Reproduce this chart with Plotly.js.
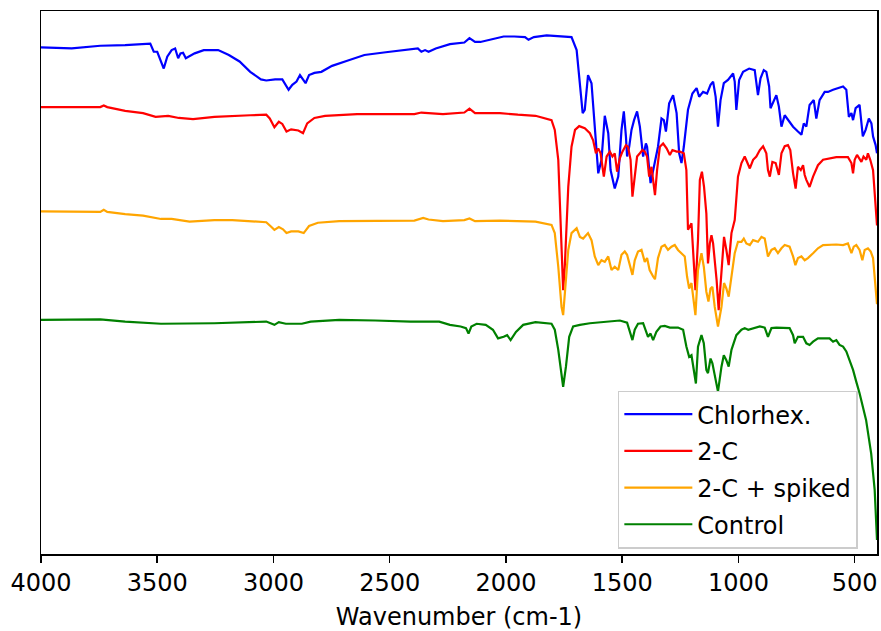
<!DOCTYPE html>
<html>
<head>
<meta charset="utf-8">
<script src="https://cdn.plot.ly/plotly-3.0.1.min.js"></script>
<style>
  html, body { margin: 0; padding: 0; background: #ffffff; }
  #chart { width: 881px; height: 631px; }
</style>
</head>
<body>
<div id="chart"></div>
<script>
// Series names
const seriesNames = ["Chlorhex.", "2-C", "2-C + spiked", "Control"];

// Chlorhex. (wavenumber cm-1, offset transmittance, arbitrary units)
const chlorhexWn = [4000,3868,3745,3638,3530,3515,3500,3484,3472,3457,
  3438,3423,3410,3400,3389,3377,3361,3339,3300,3238,
  3192,3146,3100,3054,3031,2993,2962,2947,2935,2919,
  2901,2886,2873,2862,2847,2824,2794,2748,2686,2609,
  2517,2440,2379,2364,2348,2333,2302,2241,2179,2157,
  2133,2110,2056,2010,1964,1918,1903,1880,1825,1718,
  1696,1682,1670,1661,1647,1632,1618,1603,1589,1575,
  1560,1550,1532,1517,1503,1493,1484,1479,1470,1460,
  1449,1436,1424,1410,1398,1393,1378,1364,1346,1331,
  1321,1312,1298,1281,1266,1255,1245,1235,1217,1198,
  1180,1169,1152,1135,1120,1109,1098,1088,1077,1063,
  1045,1023,1016,1009,997,980,954,930,923,916,
  905,891,880,868,862,851,837,826,815,801,
  787,765,744,729,719,708,694,676,665,651,
  629,615,593,572,550,536,525,514,507,496,
  479,465,453,439,428,421,410,404];
const chlorhexT = [93.3,93.1,93.6,93.7,94.0,92.5,92.5,90.7,89.4,91.6,
  92.8,93.1,91.3,92.2,92.3,91.3,91.7,92.2,92.8,92.8,
  91.9,90.7,88.8,87.4,87.2,87.4,87.4,86.4,85.5,86.4,
  87.0,88.2,87.3,86.7,88.2,88.6,88.8,89.9,90.8,91.9,
  92.4,92.8,93.1,92.5,92.8,92.5,93.1,93.9,94.2,95.0,
  94.3,94.3,94.8,95.3,95.3,95.2,94.7,95.2,95.5,95.2,
  92.8,86.1,81.2,81.8,88.2,86.7,78.1,70.1,72.6,80.7,
  77.5,70.7,67.3,69.5,78.1,81.5,76.9,73.2,75.0,78.1,
  79.9,81.5,78.7,73.2,75.6,75.0,68.3,71.3,75.0,80.2,
  79.9,77.8,83.0,84.5,81.2,73.8,72.0,75.0,81.8,84.8,
  85.8,84.2,85.1,84.8,86.4,87.0,84.2,78.7,83.6,86.7,
  87.3,88.5,87.0,81.8,87.3,88.8,89.4,89.1,87.0,84.5,
  87.6,89.1,88.8,86.1,82.1,83.3,84.5,82.4,78.7,80.8,
  79.9,78.7,77.8,77.2,79.3,78.7,82.7,83.6,80.2,83.6,
  85.1,85.1,85.5,85.8,86.1,85.5,80.5,81.2,79.9,82.1,
  82.7,76.9,78.1,80.2,79.3,76.9,75.3,73.8];

// 2-C
const twoCWn = [4000,3868,3745,3730,3715,3638,3561,3507,3453,3407,
  3346,3254,3177,3100,3031,3016,2996,2977,2962,2944,
  2924,2893,2873,2855,2824,2778,2640,2486,2394,2364,
  2333,2271,2179,2157,2133,2026,1949,1873,1804,1790,
  1775,1768,1761,1754,1747,1739,1732,1718,1703,1685,
  1661,1639,1625,1613,1603,1593,1579,1567,1553,1542,
  1532,1522,1510,1499,1484,1475,1464,1456,1446,1436,
  1424,1413,1403,1393,1384,1374,1359,1350,1338,1324,
  1309,1295,1284,1266,1252,1235,1224,1217,1202,1192,
  1185,1174,1166,1157,1148,1138,1131,1123,1116,1109,
  1094,1085,1073,1062,1052,1042,1030,1016,1002,987,
  973,963,951,937,923,908,894,880,873,865,
  854,840,826,815,801,787,777,765,754,744,
  732,722,715,708,694,679,658,636,608,579,
  529,514,507,500,490,482,471,462,450,443,
  433,421,414,407,404];
const twoCT = [82.3,82.3,82.3,82.6,82.3,81.6,81.2,80.5,80.7,80.3,
  80.1,80.5,80.7,80.8,80.9,80.2,78.6,79.6,79.2,77.8,
  78.2,78.0,77.5,79.3,80.3,80.7,81.0,81.0,81.0,81.3,
  81.2,81.0,81.3,82.0,81.2,81.2,80.9,80.7,79.9,78.1,
  72.6,65.2,56.0,48.6,52.9,60.3,67.6,75.0,78.1,78.8,
  78.4,77.5,76.2,73.8,74.7,73.8,69.5,73.2,74.1,73.2,
  73.8,70.4,72.9,74.1,75.3,75.0,72.6,65.8,70.1,73.2,
  73.8,74.4,74.1,73.2,69.5,71.3,66.1,70.7,75.0,75.6,
  74.7,73.5,74.4,74.1,74.1,73.8,70.7,59.7,60.9,53.5,
  48.6,57.8,68.9,70.4,67.6,62.7,53.5,57.2,58.7,57.2,
  50.5,44.9,51.7,58.4,56.0,53.2,59.1,61.5,69.5,72.0,
  73.2,72.2,71.0,72.6,73.2,74.4,75.1,73.8,70.7,69.5,
  72.2,72.0,69.8,73.8,75.1,75.3,74.4,70.1,67.3,71.3,
  70.7,71.6,69.8,68.9,67.6,69.5,71.6,72.6,72.9,73.1,
  73.1,72.0,70.1,72.6,73.5,72.9,72.2,73.2,72.6,73.8,
  72.6,70.7,66.4,61.5,60.5];

// 2-C + spiked
const spikedWn = [4000,3868,3745,3730,3715,3638,3561,3484,3438,3361,
  3254,3177,3100,3031,3011,2996,2977,2959,2944,2924,
  2893,2870,2847,2809,2717,2563,2394,2356,2333,2271,
  2179,2157,2133,2026,1949,1873,1804,1790,1775,1761,
  1754,1742,1732,1718,1696,1682,1668,1647,1632,1618,
  1603,1589,1575,1560,1546,1532,1517,1503,1489,1479,
  1467,1456,1446,1432,1417,1403,1393,1382,1367,1359,
  1346,1331,1317,1303,1288,1274,1260,1245,1231,1221,
  1212,1202,1192,1185,1174,1159,1149,1138,1129,1120,
  1112,1102,1088,1073,1062,1052,1042,1030,1016,1002,
  987,977,966,951,937,916,901,887,873,858,
  844,830,815,801,780,765,755,744,729,715,
  701,679,658,636,608,579,550,529,514,504,
  493,479,467,457,443,431,421,414,407,404];
const spikedT = [63.1,63.0,63.0,63.4,63.0,62.6,62.3,61.7,61.7,61.2,
  61.5,61.5,61.3,61.1,60.3,59.7,60.2,59.8,59.1,59.4,
  59.4,59.1,60.4,61.0,61.3,61.4,61.4,61.9,61.6,61.3,
  61.5,61.8,61.3,61.4,61.3,61.2,60.6,59.1,52.9,45.5,
  44.0,49.9,56.0,59.1,60.0,58.4,58.1,59.1,57.8,54.8,
  53.2,54.1,53.8,54.8,52.3,52.9,52.3,55.1,55.7,55.1,
  52.9,51.4,54.1,55.7,56.0,53.8,54.5,52.3,51.1,50.6,
  54.5,56.6,56.9,56.0,56.6,56.9,56.0,55.4,54.8,51.1,
  48.9,49.9,46.2,44.0,52.3,55.4,52.9,48.3,46.5,48.9,
  49.2,45.5,41.9,45.5,49.9,48.9,47.4,51.1,55.4,57.5,
  57.5,58.1,57.2,56.9,57.8,57.5,58.4,58.1,54.8,56.0,
  56.3,55.4,56.3,56.9,56.6,54.8,53.2,54.5,54.8,54.1,
  54.5,55.4,56.3,56.9,57.0,57.0,56.9,57.2,55.4,56.6,
  56.9,56.0,54.1,56.0,56.3,55.7,54.5,51.1,47.4,46.0];

// Control
const controlWn = [4000,3868,3745,3638,3484,3254,3031,2996,2977,2947,
  2878,2840,2717,2563,2410,2287,2241,2195,2172,2161,
  2149,2126,2087,2056,2034,2010,1995,1980,1957,1926,
  1873,1804,1790,1775,1761,1754,1742,1728,1711,1682,
  1639,1567,1510,1479,1467,1456,1446,1432,1410,1396,
  1389,1378,1367,1353,1335,1317,1295,1260,1238,1224,
  1212,1202,1192,1183,1174,1159,1149,1138,1131,1120,
  1112,1102,1088,1073,1063,1052,1042,1030,1009,987,
  973,958,937,908,887,873,858,837,780,765,
  758,744,722,708,694,679,658,608,593,579,
  565,550,536,521,507,493,479,451,429,414,
  407,404];
const controlT = [43.1,43.1,43.2,42.8,42.4,42.5,42.8,42.2,42.7,42.4,
  42.4,42.8,43.1,43.0,42.8,42.8,42.2,41.9,41.6,40.6,
  41.9,42.4,42.2,41.3,39.7,40.0,40.3,39.4,40.9,42.2,
  42.7,42.4,41.3,37.6,32.7,30.8,34.5,40.0,41.9,42.2,
  42.5,42.8,43.0,42.6,40.9,39.4,41.3,42.4,42.5,40.9,
  40.0,40.6,39.4,40.9,41.9,42.0,41.7,41.7,41.3,38.2,
  36.3,36.6,33.3,31.4,38.2,40.3,38.8,33.9,33.3,36.0,
  35.1,32.7,29.9,34.5,36.6,35.7,34.5,37.6,40.3,41.3,
  41.6,41.3,41.6,41.9,41.7,40.0,41.6,41.7,41.6,40.3,
  38.8,40.0,40.0,38.8,38.5,39.1,39.7,39.7,39.1,39.4,
  38.5,38.2,37.3,35.7,33.9,31.7,29.6,24.7,18.5,11.8,
  4.4,2.6];

// X-axis ticks
const xTickVals = [4000, 3500, 3000, 2500, 2000, 1500, 1000, 500];
const xTickText = ["4000", "3500", "3000", "2500", "2000", "1500", "1000", "500"];

const colors = ["#0000ff", "#ff0000", "#ffa500", "#008000"];
const xs = [chlorhexWn, twoCWn, spikedWn, controlWn];
const ys = [chlorhexT, twoCT, spikedT, controlT];

const FONT = "DejaVu Sans, Liberation Sans, sans-serif";

const traces = seriesNames.map((name, i) => ({
  type: "scatter",
  mode: "lines",
  name: name,
  x: xs[i],
  y: ys[i],
  line: { color: colors[i], width: 2.2 },
  legendgroup: "g" + i,
  hoverinfo: "skip"
}));

const layout = {
  width: 881,
  height: 631,
  margin: { l: 41, r: 4, t: 11, b: 77, pad: 0 },
  paper_bgcolor: "#ffffff",
  plot_bgcolor: "#ffffff",
  font: { family: FONT, size: 24, color: "#000000" },
  showlegend: true,
  legend: {
    x: 0.69, y: 0.301, xanchor: "left", yanchor: "top",
    bgcolor: "rgba(255,255,255,0.8)",
    bordercolor: "#cccccc",
    borderwidth: 1.5,
    font: { family: FONT, size: 24, color: "#000000" },
    tracegroupgap: 2.5,
    itemwidth: 68,
    traceorder: "grouped"
  },
  xaxis: {
    range: [4000, 404],
    tickmode: "array",
    tickvals: xTickVals,
    ticktext: xTickText,
    ticks: "outside",
    ticklen: 7,
    tickwidth: 1.5,
    tickcolor: "#000000",
    tickfont: { family: FONT, size: 24, color: "#000000" },
    showgrid: false,
    zeroline: false,
    showline: true,
    mirror: true,
    linecolor: "#000000",
    linewidth: 1.5,
    automargin: false,
    title: { text: "Wavenumber (cm-1)", font: { family: FONT, size: 24, color: "#000000" } }
  },
  yaxis: {
    range: [0, 100],
    showticklabels: false,
    ticks: "",
    showgrid: false,
    zeroline: false,
    showline: true,
    mirror: true,
    linecolor: "#000000",
    linewidth: 1.5,
    automargin: false
  }
};

Plotly.newPlot("chart", traces, layout, { displayModeBar: false, staticPlot: true });
</script>
</body>
</html>
